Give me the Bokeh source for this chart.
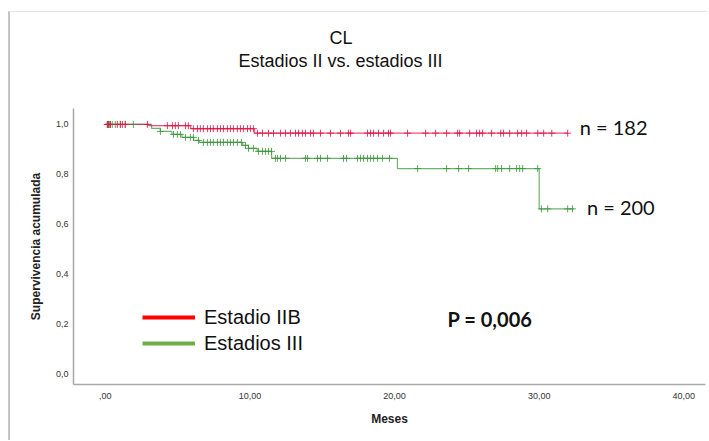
import numpy as np
from bokeh.plotting import figure
from bokeh.models import Range1d, FixedTicker, Label, Legend, LegendItem, Title
from bokeh.embed import file_html
from bokeh.resources import INLINE

# ---------------- data ----------------
title_text = "CL"
subtitle_text = "Estadios II vs. estadios III"
x_label = "Meses"
y_label = "Supervivencia acumulada"

x_ticks = [0, 10, 20, 30, 40]
x_tick_labels = [",00", "10,00", "20,00", "30,00", "40,00"]
y_ticks = [0.0, 0.2, 0.4, 0.6, 0.8, 1.0]
y_tick_labels = ["0,0", "0,2", "0,4", "0,6", "0,8", "1,0"]

group_names = ["Estadio IIB", "Estadios III"]

# Estadio IIB (red)
red_event_t = [3.0, 5.9, 10.3]
red_event_s = [0.995, 0.983, 0.965]
red_end_t = 32.0
red_censor_t = [0.14, 0.21, 0.35, 0.83, 1.04, 1.18, 1.38, 2.91, 4.29, 4.64, 4.84, 5.05,
                5.54, 5.74, 6.09, 6.37, 6.57, 6.78, 7.06, 7.27, 7.47, 7.75, 7.96, 8.17,
                8.44, 8.65, 8.86, 9.13, 9.34, 9.55, 9.83, 10.03, 10.24, 10.52, 10.87,
                11.28, 11.63, 12.11, 12.46, 12.80, 13.15, 13.36, 13.63, 13.84, 14.19,
                14.39, 14.88, 15.57, 16.26, 16.82, 16.96, 18.13, 18.34, 18.55, 18.89,
                19.24, 19.58, 19.72, 20.90, 22.15, 22.84, 23.60, 24.36, 24.50, 25.19,
                25.67, 25.88, 26.09, 26.71, 27.34, 27.54, 27.96, 28.51, 28.79, 29.13,
                29.90, 30.31, 30.87, 31.97]
red_n = "n = 182"

# Estadios III (green)
green_event_t = [3.2, 3.8, 4.6, 5.3, 6.1, 6.5, 9.5, 9.9, 10.5, 11.5, 20.2, 30.0]
green_event_s = [0.984, 0.972, 0.960, 0.948, 0.936, 0.928, 0.916, 0.904, 0.892, 0.864, 0.823, 0.661]
green_end_t = 32.4
green_censor_t = [0.14, 0.21, 0.28, 0.35, 0.48, 0.69, 1.04, 1.38, 1.94, 3.81, 4.71, 4.98,
                  5.19, 5.54, 5.88, 6.09, 6.44, 6.78, 7.06, 7.27, 7.47, 7.75, 7.96, 8.17,
                  8.44, 8.65, 8.86, 9.13, 9.41, 9.69, 9.90, 10.24, 10.59, 10.87, 11.07,
                  11.28, 11.49, 11.76, 11.90, 12.11, 12.46, 13.84, 13.98, 14.67, 14.88,
                  15.36, 16.47, 16.68, 17.44, 17.65, 17.85, 18.13, 18.34, 18.55, 18.82,
                  19.17, 19.65, 21.59, 23.60, 24.43, 25.12, 26.99, 27.13, 27.40, 27.96,
                  28.44, 28.65, 28.86, 29.90, 30.15, 30.59, 31.97, 32.30]
green_n = "n = 200"

p_value_text = "P = 0,006"

# ---------------- helpers ----------------
def step_curve(ev_t, ev_s, end_t):
    xs = [0.0] + list(ev_t) + [end_t]
    ys = [1.0] + list(ev_s) + [ev_s[-1]]
    return xs, ys

def level_at(ev_t, ev_s, t):
    idx = np.searchsorted(np.asarray(ev_t), np.asarray(t), side="right")
    lv = np.concatenate([[1.0], ev_s])
    return lv[idx]

RED = "#dc1a48"
GREEN = "#3f973f"

p = figure(width=699, height=429, output_backend="svg", toolbar_location=None,
           x_range=Range1d(-2.2, 41.5), y_range=Range1d(-0.044, 1.064))
p.styles = {"margin-left": "8px", "margin-top": "11px",
            "border-left": "2px solid #c4c4c4", "border-top": "1px solid #e4e4e4"}
p.min_border_left = 63
p.min_border_right = 4
p.min_border_top = 96
p.min_border_bottom = 57
p.outline_line_color = None
p.grid.visible = False
p.background_fill_color = "white"
p.border_fill_color = "white"

# axes
for ax in (p.xaxis[0], p.yaxis[0]):
    ax.axis_line_color = "#a8a8a8"
    ax.axis_line_width = 1.5
    ax.major_tick_line_color = None
    ax.major_tick_out = 0
    ax.major_tick_in = 0
    ax.minor_tick_line_color = None
    ax.minor_tick_out = 0
    ax.major_label_text_font = "Liberation Sans"
    ax.major_label_text_font_size = "9px"
    ax.major_label_text_color = "#333333"
    ax.axis_label_text_font = "Liberation Sans"
    ax.axis_label_text_font_size = "12px"
    ax.axis_label_text_font_style = "bold"
    ax.axis_label_text_color = "#222222"

p.xaxis[0].ticker = FixedTicker(ticks=x_ticks)
p.xaxis[0].major_label_overrides = {t: l for t, l in zip(x_ticks, x_tick_labels)}
p.xaxis[0].axis_label = x_label
p.xaxis[0].major_label_standoff = 8
p.xaxis[0].axis_label_standoff = 10

p.yaxis[0].ticker = FixedTicker(ticks=y_ticks)
p.yaxis[0].major_label_overrides = {t: l for t, l in zip(y_ticks, y_tick_labels)}
p.yaxis[0].axis_label = y_label
p.yaxis[0].major_label_standoff = 5
p.yaxis[0].axis_label_standoff = 10

# curves
rx, ry = step_curve(red_event_t, red_event_s, red_end_t)
gx, gy = step_curve(green_event_t, green_event_s, green_end_t)
p.step(gx, gy, mode="after", line_color=GREEN, line_width=1.2, line_alpha=0.75)
p.step(rx, ry, mode="after", line_color=RED, line_width=1.2, line_alpha=0.75)
p.scatter(green_censor_t, level_at(green_event_t, green_event_s, green_censor_t),
          marker="cross", size=7, line_color=GREEN, line_width=1, line_alpha=0.85)
p.scatter(red_censor_t, level_at(red_event_t, red_event_s, red_censor_t),
          marker="cross", size=7, line_color=RED, line_width=1, line_alpha=0.85)

# legend (renderers with a single NaN point so that the legend glyph is drawn)
lr = p.line([np.nan], [np.nan], line_color="#ff0000", line_width=4)
lg = p.line([np.nan], [np.nan], line_color="#70ad47", line_width=4)
legend = Legend(items=[LegendItem(label=group_names[0], renderers=[lr]),
                       LegendItem(label=group_names[1], renderers=[lg])],
                location=(69, 28), orientation="vertical",
                glyph_width=53, glyph_height=26, label_height=26, spacing=0,
                label_standoff=9, padding=0, margin=0,
                border_line_alpha=0, background_fill_alpha=0,
                label_text_font="Liberation Sans", label_text_font_size="20px",
                label_text_color="#111111")
p.add_layout(legend)

# texts
p.add_layout(Label(x=32.8, y=0.988, text=red_n, text_font="Lato", text_font_size="20px",
                   text_baseline="middle", text_color="#111111"))
p.add_layout(Label(x=33.3, y=0.667, text=green_n, text_font="Lato", text_font_size="20px",
                   text_baseline="middle", text_color="#111111"))
p.add_layout(Label(x=26.6, y=0.217, text=p_value_text, text_font="Lato", text_font_size="20px",
                   text_font_style="bold", text_align="center", text_baseline="middle",
                   text_color="#111111"))

# titles above the frame (subtitle first = nearest to the frame)
p.add_layout(Title(text=subtitle_text, align="left", offset=165, standoff=73,
                   vertical_align="middle",
                   text_font="Liberation Sans", text_font_size="18px",
                   text_font_style="normal", text_color="#111111"), "above")
p.add_layout(Title(text=title_text, align="left", offset=256, standoff=-68,
                   text_font="Liberation Sans", text_font_size="18px",
                   text_font_style="normal", text_color="#111111"), "above")

open("out.html", "w").write(file_html(p, INLINE))
